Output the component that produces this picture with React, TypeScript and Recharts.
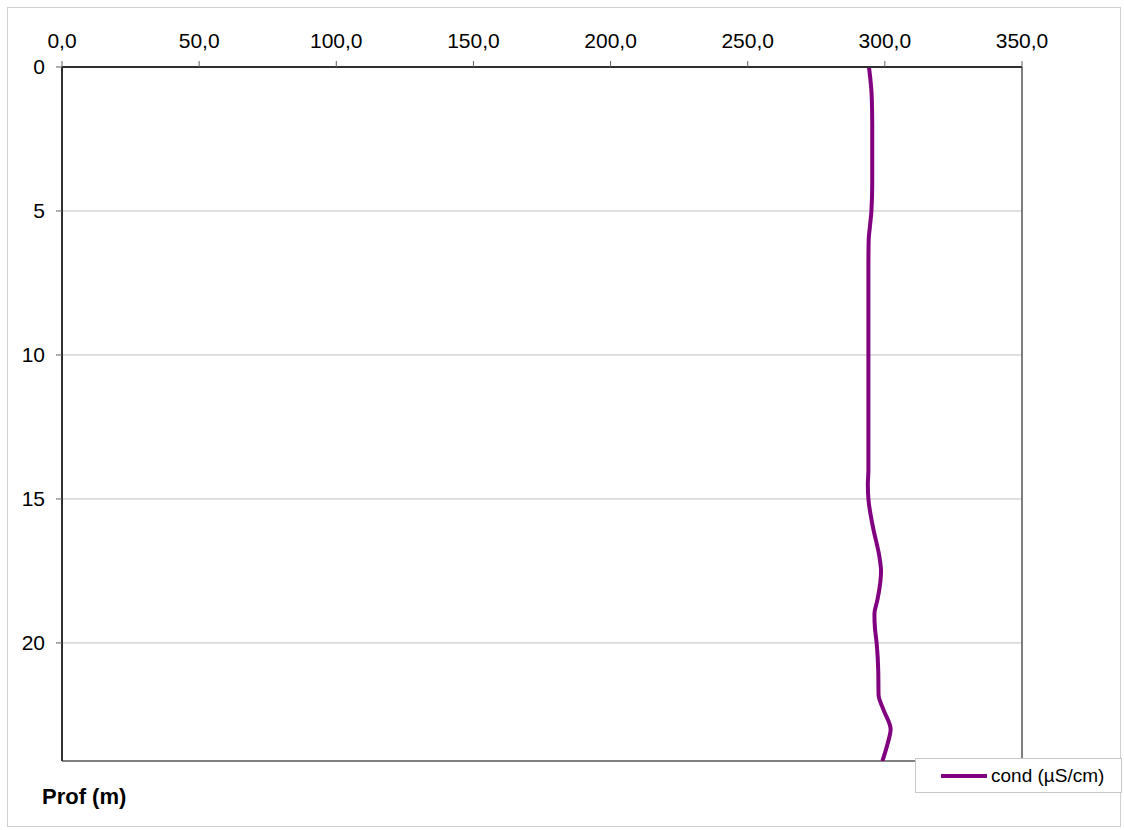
import React from 'react';
import {
  LineChart,
  Line,
  XAxis,
  YAxis,
  CartesianGrid,
  ReferenceLine,
  Legend,
} from 'recharts';

const DEPTHS = [
  0, 0.5, 1, 2, 3, 4, 5, 5.5, 6, 7, 8, 9, 10, 11, 12, 13, 14, 14.5, 15, 16, 17, 17.5, 18, 18.5,
  19, 19.5, 20, 21, 21.8, 22.3, 23, 23.5, 24.1,
];
const COND = [
  294.2, 294.8, 295.2, 295.4, 295.4, 295.4, 295.1, 294.6, 294.1, 294.0, 294.0, 294.0, 294.0, 294.0,
  294.0, 294.0, 294.0, 293.8, 294.0, 295.7, 298.0, 298.6, 298.2, 297.3, 296.2, 296.4, 297.0, 297.6,
  297.7, 299.4, 302.1, 301.0, 299.1,
];
const X_TICKS = [0, 50, 100, 150, 200, 250, 300, 350];
const Y_TICKS = [0, 5, 10, 15, 20];
const DEPTH_MAX = 24.1;

const data = DEPTHS.map((depth, i) => ({ depth, cond: COND[i] }));

const FONT = 'Arial, "Liberation Sans", sans-serif';
const PURPLE = '#800080';

function fmtComma(v: number): string {
  return v.toFixed(1).replace('.', ',');
}

function LegendBox() {
  return (
    <div
      style={{
        boxSizing: 'border-box',
        width: 207,
        height: 35,
        border: '1px solid #c8c8c8',
        background: '#fff',
        display: 'flex',
        alignItems: 'center',
        fontFamily: FONT,
        fontSize: 19,
        color: '#000',
      }}
    >
      <span
        style={{ display: 'inline-block', width: 46, height: 4, background: PURPLE, marginLeft: 25, marginRight: 4 }}
      />
      <span>cond (µS/cm)</span>
    </div>
  );
}

export default function App() {
  return (
    <div style={{ position: 'absolute', left: 0, top: 0, width: 1124, height: 830, background: '#fff' }}>
      <div
        style={{
          position: 'absolute',
          left: 7,
          top: 7,
          width: 1114,
          height: 820,
          border: '1px solid #d0d0d0',
          boxSizing: 'border-box',
        }}
      />
      <LineChart
        width={1124}
        height={830}
        data={data}
        layout="vertical"
        margin={{ top: 37, left: 32, right: 102, bottom: 69 }}
        style={{ position: 'absolute', left: 0, top: 0 }}
      >
        <CartesianGrid vertical={false} stroke="#c0c0c0" strokeWidth={1} />
        <XAxis
          type="number"
          orientation="top"
          domain={[0, 350]}
          ticks={X_TICKS}
          tickFormatter={fmtComma}
          height={30}
          tickSize={6}
          tickMargin={13}
          axisLine={{ stroke: '#303030', strokeWidth: 2 }}
          tickLine={{ stroke: '#606060' }}
          tick={{ fontSize: 21, fill: '#000', fontFamily: FONT }}
          allowDataOverflow
        />
        <YAxis
          type="number"
          dataKey="depth"
          domain={[0, DEPTH_MAX]}
          ticks={Y_TICKS}
          width={30}
          tickSize={6}
          tickMargin={11}
          axisLine={{ stroke: '#303030', strokeWidth: 2 }}
          tickLine={{ stroke: '#606060' }}
          tick={{ fontSize: 21, fill: '#000', fontFamily: FONT }}
          allowDataOverflow
        />
        <ReferenceLine x={350} stroke="#808080" strokeWidth={2} />
        <ReferenceLine y={DEPTH_MAX} stroke="#808080" strokeWidth={2} />
        <Line
          type="monotone"
          dataKey="cond"
          name="cond (µS/cm)"
          stroke={PURPLE}
          strokeWidth={4}
          dot={false}
          activeDot={false}
          isAnimationActive={false}
        />
        <Legend
          layout="vertical"
          align="center"
          verticalAlign="middle"
          wrapperStyle={{ left: 915, top: 758, width: 207, height: 35 }}
          content={() => <LegendBox />}
        />
      </LineChart>
      <div
        style={{
          position: 'absolute',
          left: 42,
          top: 784,
          fontFamily: FONT,
          fontSize: 22,
          fontWeight: 'bold',
          color: '#000',
        }}
      >
        Prof (m)
      </div>
    </div>
  );
}
